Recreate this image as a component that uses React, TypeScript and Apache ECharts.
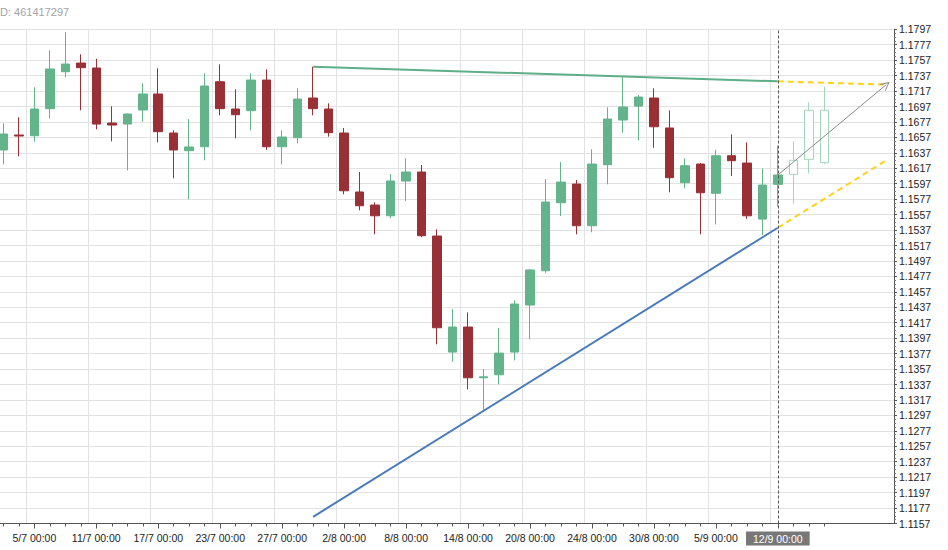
import React, { useEffect, useRef } from 'react';
import * as echarts from 'echarts';

// ---- data ----
const idLabel = 'D: 461417297';

const categories: string[] = [
  '3/7', '4/7', '5/7', '6/7', '9/7', '10/7', '11/7', '12/7', '13/7', '16/7',
  '17/7', '18/7', '19/7', '20/7', '23/7', '24/7', '25/7', '26/7', '27/7', '30/7',
  '31/7', '1/8', '2/8', '3/8', '6/8', '7/8', '8/8', '9/8', '10/8', '13/8',
  '14/8', '15/8', '16/8', '17/8', '20/8', '21/8', '22/8', '23/8', '24/8', '27/8',
  '28/8', '29/8', '30/8', '31/8', '3/9', '4/9', '5/9', '6/9', '7/9', '10/9',
  '12/9', '13/9', '14/9', '17/9', '18/9', '19/9', '20/9', '21/9',
].map((d) => d + ' 00:00');

const currentIndex = 50;

// [open, close, low, high]
const candles: number[][] = [
  [1.16407, 1.16614, 1.16221, 1.16752],
  [1.16601, 1.16588, 1.16325, 1.1683],
  [1.16592, 1.16938, 1.16514, 1.17219],
  [1.16942, 1.17456, 1.16817, 1.17698],
  [1.17421, 1.1752, 1.17348, 1.17931],
  [1.17533, 1.17473, 1.16921, 1.17646],
  [1.17469, 1.16743, 1.16675, 1.17589],
  [1.16756, 1.1673, 1.16519, 1.16973],
  [1.16743, 1.16873, 1.16144, 1.16879],
  [1.16925, 1.17132, 1.16773, 1.1727],
  [1.17132, 1.16644, 1.16506, 1.17465],
  [1.16627, 1.16407, 1.1604, 1.16662],
  [1.16398, 1.16446, 1.15768, 1.16808],
  [1.16449, 1.17236, 1.16273, 1.174],
  [1.17291, 1.16942, 1.16856, 1.17517],
  [1.16938, 1.16864, 1.16558, 1.17193],
  [1.16916, 1.17313, 1.16662, 1.174],
  [1.17313, 1.16449, 1.1641, 1.17452],
  [1.16449, 1.16575, 1.16221, 1.16662],
  [1.16566, 1.17067, 1.16493, 1.17206],
  [1.1708, 1.16942, 1.16856, 1.17486],
  [1.16938, 1.16631, 1.16579, 1.17011],
  [1.16627, 1.15879, 1.15833, 1.16692],
  [1.15863, 1.15685, 1.15625, 1.16122],
  [1.15694, 1.15555, 1.15315, 1.15729],
  [1.15555, 1.16005, 1.15522, 1.16096],
  [1.16005, 1.16122, 1.15746, 1.16299],
  [1.16122, 1.15297, 1.15276, 1.16212],
  [1.15293, 1.14105, 1.1389, 1.15379],
  [1.1379, 1.14114, 1.13664, 1.14347],
  [1.14114, 1.13457, 1.13307, 1.14304],
  [1.13457, 1.1347, 1.13039, 1.1357],
  [1.13496, 1.13777, 1.13372, 1.14101],
  [1.1379, 1.14412, 1.13682, 1.1446],
  [1.14399, 1.14853, 1.13955, 1.14865],
  [1.14843, 1.15733, 1.14817, 1.16031],
  [1.15724, 1.15992, 1.15552, 1.16251],
  [1.15966, 1.15426, 1.15315, 1.16018],
  [1.15426, 1.16225, 1.15341, 1.16416],
  [1.16216, 1.16808, 1.15962, 1.1696],
  [1.16795, 1.16964, 1.16631, 1.17348],
  [1.16976, 1.17093, 1.16532, 1.17119],
  [1.1708, 1.16708, 1.16436, 1.17206],
  [1.16692, 1.16048, 1.15859, 1.16921],
  [1.15983, 1.16203, 1.1591, 1.16299],
  [1.16225, 1.15853, 1.15315, 1.16238],
  [1.15846, 1.16333, 1.15444, 1.1641],
  [1.16333, 1.16268, 1.1607, 1.1661],
  [1.16238, 1.15555, 1.15516, 1.16506],
  [1.15512, 1.15953, 1.15305, 1.16169],
  [1.15962, 1.16083, 1.15672, 1.16462],
];

const forecastCandles: number[][] = [
  [1.16092, 1.16273, 1.15711, 1.16519],
  [1.16286, 1.16921, 1.16105, 1.17024],
  [1.16921, 1.16242, 1.16225, 1.17226],
];

const resistanceLine: number[][] = [[20, 1.17486], [50, 1.17296]];
const resistanceProjection: number[][] = [[50, 1.17296], [57, 1.17253]];
const supportLine: number[][] = [[20, 1.11657], [50, 1.154]];
const supportProjection: number[][] = [[50, 1.154], [57, 1.16273]];
const forecastArrow: number[][] = [[50, 1.16083], [57, 1.17253]];

const yMin = 1.1157;
const yMax = 1.1797;
const yStep = 0.002;

const UP = '#63b38b';
const DOWN = '#993035';
const FONT = '"Liberation Sans", Arial, sans-serif';

export default function App() {
  const ref = useRef<HTMLDivElement>(null);

  useEffect(() => {
    if (!ref.current) return;
    const chart = echarts.init(ref.current, null, { renderer: 'svg' });

    const candleData: any[] = candles.map((c) => c);
    forecastCandles.forEach((c) => {
      candleData.push({
        value: c,
        itemStyle: {
          color: '#ffffff',
          color0: '#ffffff',
          borderColor: '#a3d6bd',
          borderColor0: '#d6a1a4',
          borderWidth: 1,
        },
      });
    });

    const majorLabel = (i: number) => i <= currentIndex && (i - 2) % 4 === 0;
    const lastTick = currentIndex + forecastCandles.length;

    const option: any = {
      animation: false,
      backgroundColor: '#ffffff',
      graphic: [
        {
          type: 'text',
          left: 0,
          top: 6,
          style: { text: idLabel, fill: '#a3a3a3', font: `11px ${FONT}` },
        },
      ],
      grid: {
        left: -4.4,
        right: 54,
        top: 29.3,
        bottom: 26.5,
        outerBoundsMode: 'none',
        containLabel: false,
      },
      xAxis: [
        {
          type: 'category',
          data: categories,
          boundaryGap: true,
          position: 'bottom',
          axisLine: { show: true, lineStyle: { color: '#555', width: 1 } },
          axisTick: {
            show: true,
            alignWithLabel: true,
            length: 3,
            interval: (i: number) => i <= lastTick,
            lineStyle: { color: '#555' },
          },
          axisLabel: {
            interval: (i: number) => majorLabel(i),
            margin: 9,
            color: '#222',
            fontSize: 10.5,
            fontFamily: FONT,
            formatter: (v: string, i: number) => (i === currentIndex ? `{hl|${v}}` : v),
            rich: {
              hl: {
                backgroundColor: '#777777',
                color: '#ffffff',
                fontSize: 10.5,
                fontFamily: FONT,
                padding: [2, 7, 1, 7],
                lineHeight: 12,
              },
            },
          },
          splitLine: {
            show: true,
            interval: (i: number) => majorLabel(i),
            lineStyle: { color: '#e2e2e4', width: 1 },
          },
        },
        {
          type: 'category',
          data: categories,
          boundaryGap: true,
          position: 'bottom',
          axisLine: { show: false },
          axisTick: {
            show: true,
            alignWithLabel: true,
            length: 5,
            interval: (i: number) => majorLabel(i),
            lineStyle: { color: '#555' },
          },
          axisLabel: { show: false },
          splitLine: { show: false },
        },
      ],
      yAxis: {
        type: 'value',
        position: 'right',
        min: yMin,
        max: yMax,
        interval: yStep,
        scale: true,
        axisLine: { show: true, lineStyle: { color: '#555', width: 1 } },
        axisTick: { show: true, length: 3, lineStyle: { color: '#555' } },
        minorTick: { show: true, splitNumber: 4, length: 2, lineStyle: { color: '#777' } },
        axisLabel: {
          margin: 5,
          color: '#222',
          fontSize: 10.5,
          fontFamily: FONT,
          formatter: (v: number) => v.toFixed(4),
        },
        splitLine: { show: true, lineStyle: { color: '#e2e2e4', width: 1 } },
      },
      series: [
        {
          type: 'candlestick',
          xAxisIndex: 0,
          data: candleData,
          barWidth: 9,
          itemStyle: {
            color: UP,
            color0: DOWN,
            borderColor: UP,
            borderColor0: DOWN,
            borderWidth: 1,
          },
          markLine: {
            silent: true,
            symbol: ['none', 'none'],
            label: { show: false },
            lineStyle: { color: '#555', type: [3, 2], width: 1 },
            data: [{ xAxis: categories[currentIndex] }],
          },
        },
        {
          type: 'line',
          data: resistanceLine,
          symbol: 'none',
          lineStyle: { color: '#5eae87', width: 2 },
          z: 3,
        },
        {
          type: 'line',
          data: supportLine,
          symbol: 'none',
          lineStyle: { color: '#4a7bbc', width: 2 },
          z: 3,
        },
        {
          type: 'line',
          data: resistanceProjection,
          symbol: 'none',
          lineStyle: { color: '#ffd21a', width: 2, type: [6, 4] },
          z: 3,
        },
        {
          type: 'line',
          data: supportProjection,
          symbol: 'none',
          lineStyle: { color: '#ffd21a', width: 2, type: [6, 4] },
          z: 3,
        },
        {
          type: 'line',
          data: [],
          symbol: 'none',
          markLine: {
            silent: true,
            symbol: ['none', 'path://M0,10 L5,0 L10,10 L8.8,10 L5,2.4 L1.2,10 Z'],
            symbolSize: [9, 9],
            label: { show: false },
            lineStyle: { color: '#8a8a8a', width: 1, type: 'solid' },
            data: [
              [
                { coord: forecastArrow[0] },
                { coord: forecastArrow[1] },
              ],
            ],
          },
          z: 4,
        },
      ],
    };

    chart.setOption(option);
    return () => chart.dispose();
  }, []);

  return (
    <div
      ref={ref}
      style={{ position: 'fixed', left: 0, top: 0, width: 948, height: 550 }}
    />
  );
}
